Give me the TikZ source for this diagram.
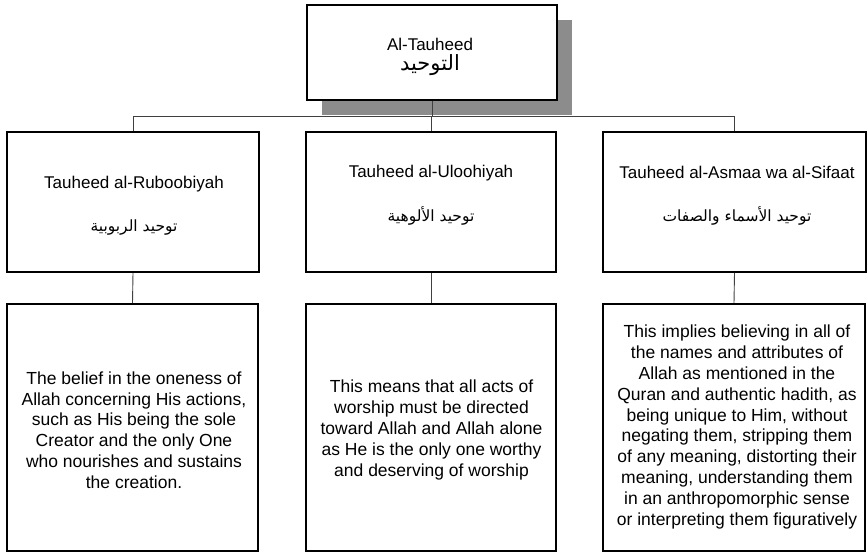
\documentclass[tikz,border=0pt]{standalone}
\usepackage{fontspec}
\setmainfont{Liberation Sans}
\newfontfamily\arabicfont[Script=Arabic]{DejaVu Sans}
\TeXXeTstate=1
\newcommand\artxt[1]{\beginR #1\endR}
\tikzset{
  box/.style={draw=black, line width=1.6pt, fill=white, rectangle, inner sep=0pt},
  link/.style={draw=black!75, line width=0.9pt},
  title/.style={font=\fontsize{17}{21}\selectfont, inner sep=0pt, anchor=base},
  arab/.style={font=\arabicfont\fontsize{15.5}{18}\selectfont, inner sep=0pt, anchor=base},
  body/.style={font=\fontsize{17.5}{20.8}\selectfont, align=center, inner sep=0pt},
  shade/.style={fill=black!45}
}
\begin{document}
\begin{tikzpicture}[x=1pt,y=-1pt]
\useasboundingbox (0,0) rectangle (868,557);

% root box with its drop shadow
\fill[shade] (322,20) rectangle (572,115);
\node[box, minimum width=250pt, minimum height=95pt] (root) at (432,52.5) {};
\node[title] (rootEn) at (430,50) {Al-Tauheed};
\node[arab, font=\arabicfont\fontsize{21}{24}\selectfont] (rootAr) at (430,70) {\artxt{التوحيد}};

% the three categories
\node[box, minimum width=252pt, minimum height=140pt] (m1) at (133,202) {};
\node[box, minimum width=250pt, minimum height=140pt] (m2) at (431,202) {};
\node[box, minimum width=263pt, minimum height=140pt] (m3) at (734.5,202) {};

\node[title] (m1En) at (134,188) {Tauheed al-Ruboobiyah};
\node[title] (m2En) at (431,177) {Tauheed al-Uloohiyah};
\node[title] (m3En) at (737,178) {Tauheed al-Asmaa wa al-Sifaat};
\node[arab] (m1Ar) at (134,231) {\artxt{توحيد الربوبية}};
\node[arab] (m2Ar) at (431,221) {\artxt{توحيد الألوهية}};
\node[arab] (m3Ar) at (737,221) {\artxt{توحيد الأسماء والصفات}};

% explanations
\node[box, minimum width=251pt, minimum height=247pt] (b1) at (132.5,427.5) {};
\node[box, minimum width=250pt, minimum height=247pt] (b2) at (431,427.5) {};
\node[box, minimum width=262pt, minimum height=247pt] (b3) at (734,427.5) {};

\node[body] (b1Txt) at (134,430) {The belief in the oneness of\\Allah concerning His actions,\\such as His being the sole\\Creator and the only One\\who nourishes and sustains\\the creation.};
\node[body] (b2Txt) at (431.5,430) {This means that all acts of\\worship must be directed\\toward Allah and Allah alone\\as He is the only one worthy\\and deserving of worship};
\node[body] (b3Txt) at (737,427) {This implies believing in all of\\the names and attributes of\\Allah as mentioned in the\\Quran and authentic hadith, as\\being unique to Him, without\\negating them, stripping them\\of any meaning, distorting their\\meaning, understanding them\\in an anthropomorphic sense\\or interpreting them figuratively};

% connectors
\draw[link] (root.south) -- ++(0,16) coordinate (bus);
\draw[link] (m1.north) |- (bus);
\draw[link] (m3.north) |- (bus);
\draw[link] (m2.north) -- (m2.north |- bus);
\draw[link] (m1.south) -- (b1.north);
\draw[link] (m2.south) -- (b2.north);
\draw[link] (m3.south) -- (b3.north);
\end{tikzpicture}
\end{document}
